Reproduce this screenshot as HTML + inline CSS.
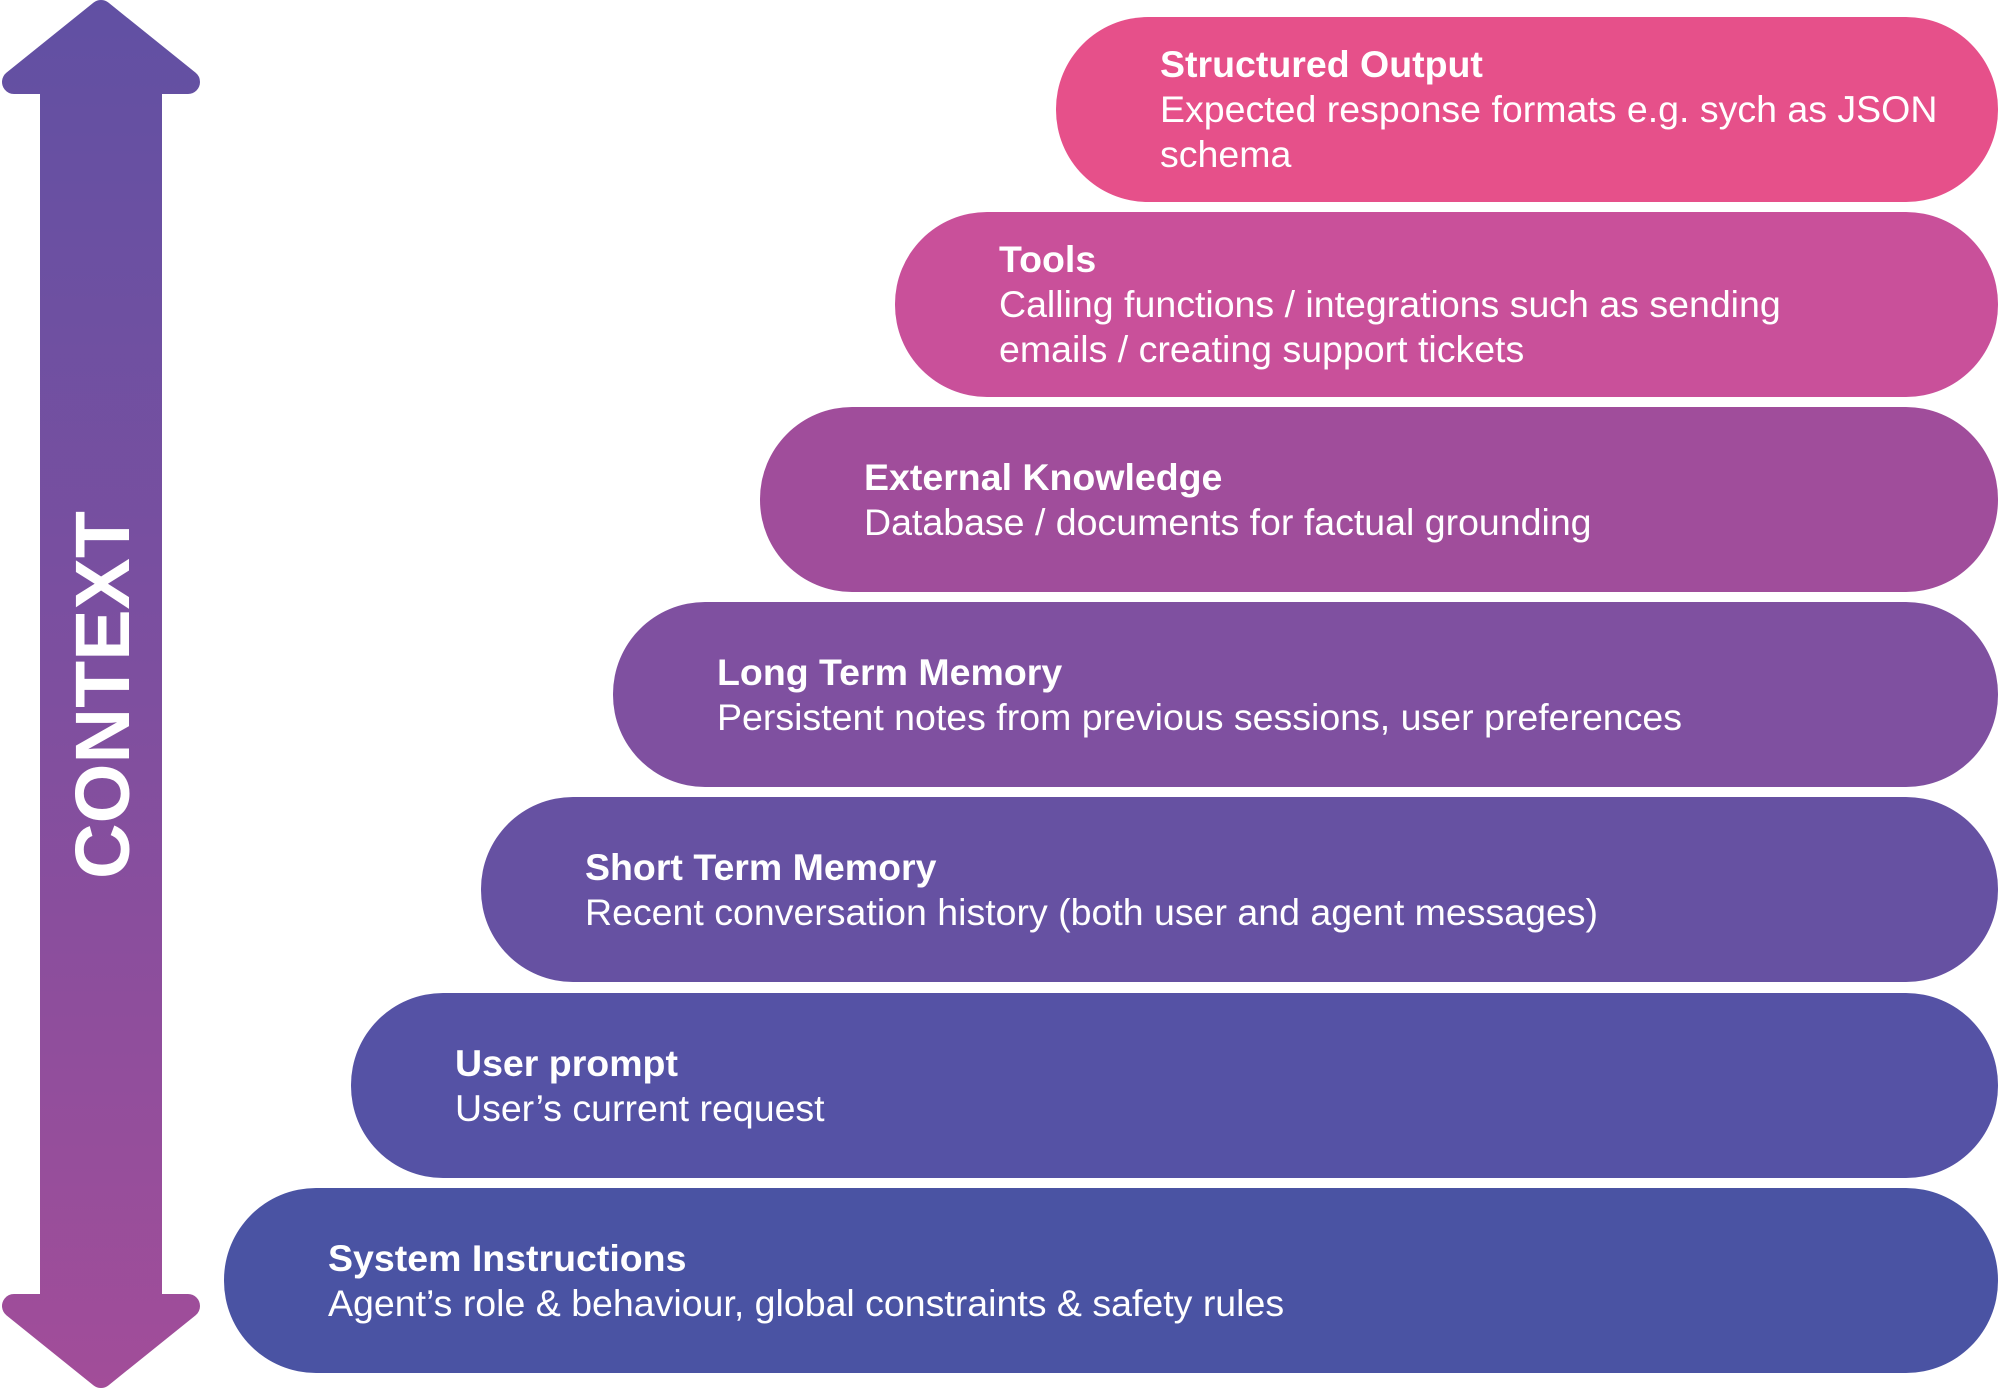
<!DOCTYPE html>
<html><head><meta charset="utf-8"><style>
html,body{margin:0;padding:0;background:#fff;}
body{width:1999px;height:1390px;position:relative;overflow:hidden;font-family:"Liberation Sans",sans-serif;}
.p{position:absolute;right:1px;height:185px;border-radius:92px;display:flex;flex-direction:column;justify-content:center;color:#fff;font-size:37.5px;line-height:45px;box-sizing:border-box;padding-left:104px;white-space:nowrap;}
.p b{font-weight:bold;}
</style></head><body>
<svg width="210" height="1390" style="position:absolute;left:0;top:0">
<defs><linearGradient id="g" gradientUnits="userSpaceOnUse" x1="0" y1="0" x2="0" y2="1390">
<stop offset="0" stop-color="#6150a3"/><stop offset="0.5" stop-color="#7e4f9f"/><stop offset="1" stop-color="#a24d99"/></linearGradient></defs>
<rect x="40" y="70" width="122" height="1250" fill="url(#g)"/>
<polygon points="14,82 188,82 101,12" fill="url(#g)" stroke="url(#g)" stroke-width="24" stroke-linejoin="round"/>
<polygon points="14,1306 188,1306 101,1376" fill="url(#g)" stroke="url(#g)" stroke-width="24" stroke-linejoin="round"/>
<text x="0" y="0" transform="translate(129,695) rotate(-90)" text-anchor="middle" fill="#fff" font-family="Liberation Sans" font-weight="bold" font-size="77">CONTEXT</text>
</svg>
<div class="p" style="left:1056px;top:17px;background:#e6508a"><b>Structured Output</b><span>Expected response formats e.g. sych as JSON</span><span>schema</span></div>
<div class="p" style="left:895px;top:212px;background:#c9509a"><b>Tools</b><span>Calling functions / integrations such as sending</span><span>emails / creating support tickets</span></div>
<div class="p" style="left:760px;top:407px;background:#a04d9b"><b>External Knowledge</b><span>Database / documents for factual grounding</span></div>
<div class="p" style="left:613px;top:602px;background:#7f50a0"><b>Long Term Memory</b><span>Persistent notes from previous sessions, user preferences</span></div>
<div class="p" style="left:481px;top:797px;background:#6651a2"><b>Short Term Memory</b><span>Recent conversation history (both user and agent messages)</span></div>
<div class="p" style="left:351px;top:993px;background:#5552a5"><b>User prompt</b><span>User’s current request</span></div>
<div class="p" style="left:224px;top:1188px;background:#4a53a3"><b>System Instructions</b><span>Agent’s role &amp; behaviour, global constraints &amp; safety rules</span></div>
</body></html>
